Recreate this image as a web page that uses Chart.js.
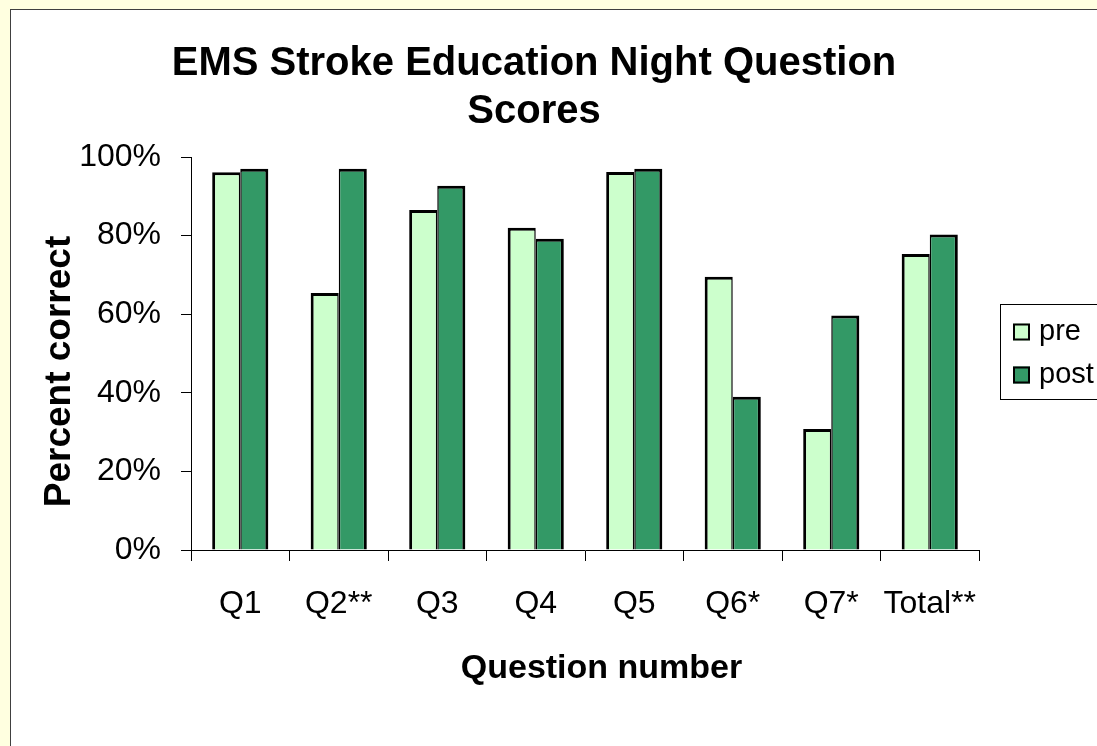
<!DOCTYPE html>
<html><head><meta charset="utf-8">
<script src="https://cdn.jsdelivr.net/npm/chart.js@4.4.0/dist/chart.umd.min.js"></script>
<style>
html,body{margin:0;padding:0;width:1097px;height:746px;overflow:hidden;background:#FFFFE0;}
#frame{position:absolute;left:10px;top:9px;width:1200px;height:800px;background:#fff;border:1px solid #404040;}
#c{position:absolute;left:0;top:0;}
</style></head><body>
<div id="frame"></div>
<canvas id="c" width="1097" height="746"></canvas>
<script>
const categories = ['Q1','Q2**','Q3','Q4','Q5','Q6*','Q7*','Total**'];
const preValues  = [96.1, 65.4, 86.5, 82.0, 96.2, 69.5, 30.8, 75.3];
const postValues = [97.0, 97.0, 92.7, 79.2, 97.0, 39.0, 59.7, 80.3];
const yTickLabels = ['0%','20%','40%','60%','80%','100%'];
const seriesNames = ['pre','post'];
const seriesColors = ['#CCFFCC','#339966'];
const titleLines = ['EMS Stroke Education Night Question','Scores'];
const xTitle = 'Question number';
const yTitle = 'Percent correct';

const FONT = "'Liberation Sans', Arial, sans-serif";
Chart.defaults.font.family = FONT;
Chart.defaults.color = '#000';

// shift selected text blocks to match the reference placement
const shiftPlugin = {
  id: 'shiftText',
  afterLayout(chart) {
    const wrap = (obj, key, dx, dy) => {
      if (!obj || obj['_w_' + key]) return;
      const orig = obj[key];
      obj[key] = function (...args) {
        const c = chart.ctx; c.save(); c.translate(dx, dy);
        orig.apply(this, args); c.restore();
      };
      obj['_w_' + key] = true;
    };
    wrap(chart.titleBlock, 'draw', 44.5, 0);
    wrap(chart.scales.x, 'drawTitle', 16.5, 0);
    wrap(chart.scales.y, 'drawTitle', 0, 18);
  }
};

const legendPlugin = {
  id: 'boxLegend',
  afterDraw(chart) {
    const ctx = chart.ctx;
    ctx.save();
    ctx.strokeStyle = '#000';
    ctx.lineWidth = 1;
    ctx.strokeRect(1000.5, 304.5, 200, 95);
    ctx.font = '29px ' + FONT;
    ctx.textBaseline = 'middle';
    ctx.textAlign = 'left';
    chart.data.datasets.forEach((ds, i) => {
      const cy = 332 + i * 43;
      ctx.fillStyle = ds.backgroundColor;
      ctx.fillRect(1013, cy - 8.5, 17, 17);
      ctx.lineWidth = 2;
      ctx.strokeStyle = '#000';
      ctx.strokeRect(1014, cy - 7.5, 15, 15);
      ctx.fillStyle = '#000';
      ctx.fillText(ds.label, 1039, cy);
    });
    ctx.restore();
  }
};

new Chart(document.getElementById('c'), {
  type: 'bar',
  data: {
    labels: categories,
    datasets: [
      { label: seriesNames[0], data: preValues, backgroundColor: seriesColors[0], borderColor: '#000',
        borderWidth: {top: 3, left: 3, right: 1.5, bottom: 0}, borderSkipped: 'start', inflateAmount: 0 },
      { label: seriesNames[1], data: postValues, backgroundColor: seriesColors[1], borderColor: '#000',
        borderWidth: {top: 3, left: 1.5, right: 3, bottom: 0}, borderSkipped: 'start', inflateAmount: 0 }
    ]
  },
  options: {
    responsive: false,
    animation: false,
    events: [],
    datasets: { bar: { categoryPercentage: 0.57, barPercentage: 1.0 } },
    layout: { padding: { left: 0, right: 118, top: 0, bottom: 0 } },
    plugins: {
      legend: { display: false },
      tooltip: { enabled: false },
      title: { display: true, text: titleLines, color: '#000',
        font: { size: 40, weight: 'bold', lineHeight: 1.2 }, padding: { top: 40, bottom: 21 } }
    },
    scales: {
      x: {
        grid: { display: true, drawOnChartArea: false, drawTicks: true, tickLength: 11, color: '#000', offset: true },
        border: { display: true, color: '#000', width: 1 },
        ticks: { font: { size: 32 }, color: '#000', padding: 24, maxRotation: 0, autoSkip: false },
        title: { display: true, text: xTitle, color: '#000', font: { size: 34, weight: 'bold', lineHeight: 1.2 }, padding: { top: 57, bottom: 57 } },
        afterFit: s => { s.height = 196; }
      },
      y: {
        min: 0, max: 100,
        ticks: { stepSize: 20, callback: (v, i) => yTickLabels[i], font: { size: 32 }, color: '#000', padding: 20 },
        grid: { display: true, drawOnChartArea: false, drawTicks: true, tickLength: 10, color: '#000' },
        border: { display: true, color: '#000', width: 1 },
        title: { display: true, text: yTitle, color: '#000', font: { size: 37, weight: 'bold', lineHeight: 1.2 }, padding: { top: 38, bottom: 0 } },
        afterFit: s => { s.width = 191; }
      }
    }
  },
  plugins: [shiftPlugin, legendPlugin]
});
</script>
</body></html>
